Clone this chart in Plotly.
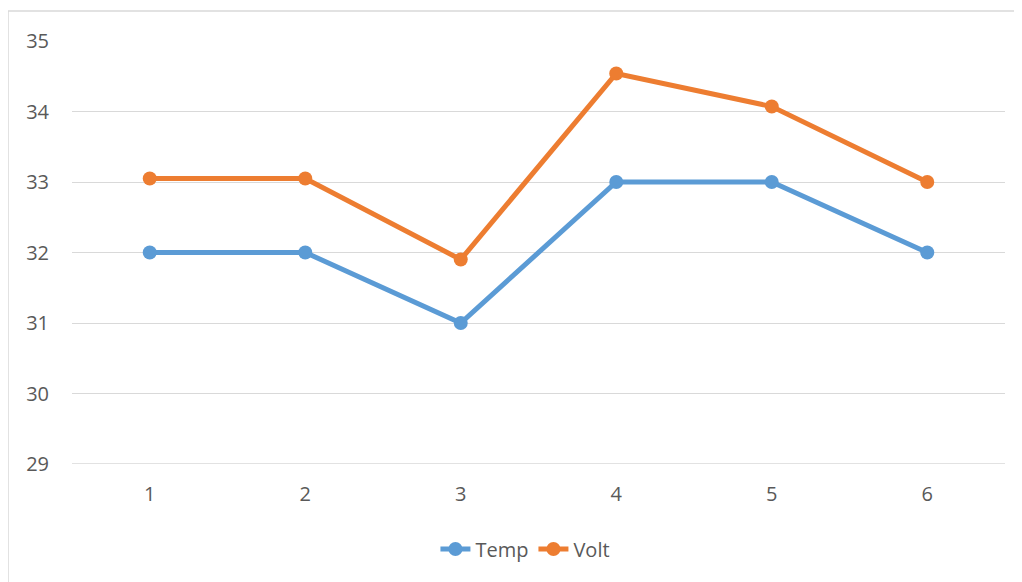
import plotly.graph_objects as go

categories = ["1", "2", "3", "4", "5", "6"]
temp = [32, 32, 31, 33, 33, 32]
volt = [33.05, 33.05, 31.9, 34.54, 34.07, 33.0]
y_ticks = [29, 30, 31, 32, 33, 34, 35]

fig = go.Figure()
fig.add_trace(go.Scatter(x=categories, y=temp, name="Temp", mode="lines+markers",
                         line=dict(color="#5B9BD5", width=5),
                         marker=dict(size=14, color="#5B9BD5")))
fig.add_trace(go.Scatter(x=categories, y=volt, name="Volt", mode="lines+markers",
                         line=dict(color="#ED7D31", width=5),
                         marker=dict(size=14, color="#ED7D31")))

# page body has an 8px margin, so figure coords = screen coords - 8
W, H = 1014, 574
l, r, t, b = 64, 17, 33, 118
pw, ph = W - l - r, H - t - b
plot_bottom = t + ph  # figure px

fig.update_layout(
    width=W, height=H,
    margin=dict(l=l, r=r, t=t, b=b),
    paper_bgcolor="white", plot_bgcolor="white",
    font=dict(family="Open Sans, Liberation Sans, sans-serif", size=20, color="#595959"),
    showlegend=True,
    legend=dict(orientation="h", x=0.486, xanchor="center",
                y=(plot_bottom - 541) / ph, yanchor="middle",
                font=dict(size=20, color="#595959")),
    xaxis=dict(type="category", range=[-0.5, 5.5], showgrid=False, zeroline=False,
               showline=False, ticks="", ticklabelstandoff=16,
               tickfont=dict(size=20, color="#595959")),
    yaxis=dict(range=[min(y_ticks), max(y_ticks)], tickvals=y_ticks, showgrid=True,
               gridcolor="#D9D9D9", gridwidth=1.2, zeroline=False, showline=False,
               ticks="", ticklabelstandoff=22,
               tickfont=dict(size=20, color="#595959")),
)

# bottom gridline (plotly drops the gridline at the range edge)
fig.add_shape(type="line", xref="paper", yref="y", x0=0, x1=1,
              y0=min(y_ticks), y1=min(y_ticks),
              line=dict(color="#D9D9D9", width=1.5), layer="below")

fig.add_shape(type="rect", xref="paper", yref="paper",
              x0=(0 - l) / pw, x1=(1040 - l) / pw,
              y0=(plot_bottom - 620) / ph, y1=(plot_bottom - 3) / ph,
              line=dict(color="#D9D9D9", width=1.5), fillcolor="rgba(0,0,0,0)", layer="below")

fig.write_html("out.html")
